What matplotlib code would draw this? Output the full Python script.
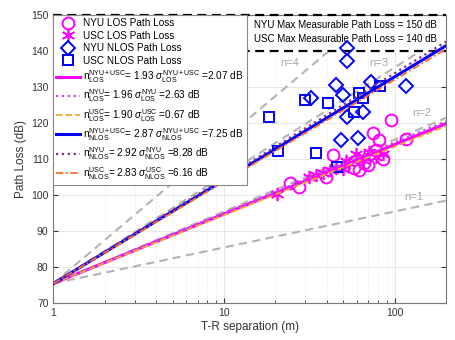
import matplotlib
matplotlib.use("Agg")
import matplotlib.pyplot as plt
import matplotlib.transforms as mtransforms
import numpy as np

plt.rcParams['font.family'] = ['Liberation Sans', 'DejaVu Sans']
plt.rcParams['mathtext.fontset'] = 'custom'
plt.rcParams['mathtext.rm'] = 'Liberation Sans'
plt.rcParams['mathtext.it'] = 'Liberation Sans:italic'

# free space path loss at 1 m, 142 GHz
FSPL_1M = 75.5

# measured points: T-R separation (m), path loss (dB)
nyu_los_d = [24.5, 27.7, 39.7, 43.5, 58.0, 61.5, 66.0, 70.0, 74.5, 78.0, 81.4, 85.0, 95.3, 116.6]
nyu_los_pl = [103.5, 102.4, 105.0, 111.2, 107.5, 107.0, 109.0, 108.5, 117.4, 112.5, 115.4, 110.0, 121.0, 115.5]

usc_los_d = [20.5, 31.7, 34.7, 38.0, 42.0, 45.4, 49.6, 52.2, 54.4, 59.3, 65.0, 66.0, 71.2, 78.1, 85.2]
usc_los_pl = [100.3, 105.2, 105.7, 106.3, 107.0, 107.5, 107.2, 109.5, 108.9, 111.5, 109.8, 110.5, 112.0, 110.7, 111.5]

nyu_nlos_d = [32.4, 45.4, 48.7, 49.6, 52.3, 52.3, 52.7, 61.3, 65.0, 72.8, 116.6]
nyu_nlos_pl = [126.9, 130.6, 115.4, 127.9, 141.0, 137.3, 121.8, 116.0, 123.2, 131.6, 130.4]

usc_nlos_d = [18.3, 20.7, 30.0, 34.7, 40.5, 46.0, 58.1, 61.6, 65.6, 82.4]
usc_nlos_pl = [121.8, 112.3, 126.5, 111.7, 125.7, 107.9, 123.2, 128.5, 126.9, 130.4]

# path loss exponents and shadow fading
ple = {'los_all': 1.93, 'los_nyu': 1.96, 'los_usc': 1.90,
       'nlos_all': 2.87, 'nlos_nyu': 2.92, 'nlos_usc': 2.83}
sigma = {'los_all': 2.07, 'los_nyu': 2.63, 'los_usc': 0.67,
         'nlos_all': 7.25, 'nlos_nyu': 8.28, 'nlos_usc': 6.16}

ref_n = [1, 2, 3, 4]
ref_label_pos = {1: (130, 99.6), 2: (145, 122.9), 3: (81, 136.8), 4: (24.2, 136.8)}

max_pl_nyu = 150
max_pl_usc = 140

d = np.logspace(0, np.log10(200), 200)

fig = plt.figure(figsize=(4.56, 3.4), dpi=100)
ax = fig.add_axes([0.117, 0.108, 0.861, 0.847])

# reference exponents
for n in ref_n:
    ax.plot(d, FSPL_1M + 10 * n * np.log10(d), color='#b3b3b3', lw=1.5,
            dashes=(4, 2.5), zorder=1.5)
    x, y = ref_label_pos[n]
    ax.text(x, y, f'n={n}', color='#a6a6a6', fontsize=8, ha='center', va='center')

# max measurable path loss box
ax.axhspan(max_pl_usc, max_pl_nyu, xmin=0.492, xmax=1, color='white', zorder=2)
ax.axhline(max_pl_nyu, color='black', lw=1.6, dashes=(4, 2.5), zorder=2.6, clip_on=False)
ax.axhline(max_pl_usc, color='black', lw=1.6, dashes=(4, 2.5), zorder=2.6)
tr = mtransforms.blended_transform_factory(ax.transAxes, ax.transData)
ax.text(0.745, 147.3, f'NYU Max Measurable Path Loss = {max_pl_nyu} dB',
        transform=tr, fontsize=7, ha='center', va='center', zorder=2.2)
ax.text(0.745, 143.4, f'USC Max Measurable Path Loss = {max_pl_usc} dB',
        transform=tr, fontsize=7, ha='center', va='center', zorder=2.2)

magenta = '#ff00ff'
blue = '#0000ff'
ax.plot(nyu_los_d, nyu_los_pl, 'o', ls='none', mfc='none', mec=magenta, ms=8.5, mew=1.4,
        label='NYU LOS Path Loss', zorder=3)
ax.plot(usc_los_d, usc_los_pl, marker=(6, 2, 0), ls='none', mec=magenta, ms=9.5, mew=1.2,
        label='USC LOS Path Loss', zorder=3)
ax.plot(nyu_nlos_d, nyu_nlos_pl, 'D', ls='none', mfc='none', mec=blue, ms=7.5, mew=1.4,
        label='NYU NLOS Path Loss', zorder=3)
ax.plot(usc_nlos_d, usc_nlos_pl, 's', ls='none', mfc='none', mec=blue, ms=7.5, mew=1.4,
        label='USC NLOS Path Loss', zorder=3)


def fit_label(key, who, cond):
    return (r'n$^{\rm %s}_{\rm %s}$= %.2f $\sigma^{\rm %s}_{\rm %s}$ =%.2f dB'
            % (who, cond, ple[key], who, cond, sigma[key]))


fits = [
    ('los_all', 'NYU+USC', 'LOS', dict(color=magenta, lw=2.2, ls='-')),
    ('los_nyu', 'NYU', 'LOS', dict(color='#b74fe6', lw=1.6, ls=':')),
    ('los_usc', 'USC', 'LOS', dict(color='#f0a830', lw=1.3, dashes=(3.5, 1.8))),
    ('nlos_all', 'NYU+USC', 'NLOS', dict(color=blue, lw=2.2, ls='-')),
    ('nlos_nyu', 'NYU', 'NLOS', dict(color='#7e2f8e', lw=1.6, ls=':')),
    ('nlos_usc', 'USC', 'NLOS', dict(color='#ff6a2a', lw=1.3, dashes=(4, 1.5, 1, 1.5))),
]
for key, who, cond, style in fits:
    ax.plot(d, FSPL_1M + 10 * ple[key] * np.log10(d), label=fit_label(key, who, cond),
            zorder=3.5, **style)

ax.set_xscale('log')
ax.set_xlim(1, 200)
ax.set_ylim(70, 150)
ax.set_yticks(np.arange(70, 151, 10))
ax.set_xticks([1, 10, 100])
ax.set_xticklabels(['1', '10', '100'])
ax.set_xlabel('T-R separation (m)', fontsize=8.5, color='#333333', labelpad=2)
ax.set_ylabel('Path Loss (dB)', fontsize=8.5, color='#333333', labelpad=3)

ax.grid(True, which='major', color='#e3e3e3', lw=0.6, zorder=0)
ax.grid(True, which='minor', axis='x', color='#e3e3e3', lw=0.6, ls=':', zorder=0)
ax.set_axisbelow(True)
ax.tick_params(which='both', direction='in', top=True, right=True,
               labelsize=7.5, colors='#333333')
ax.tick_params(which='major', length=3.5)
ax.tick_params(which='minor', length=2)
for s in ax.spines.values():
    s.set_color('#777777')
    s.set_linewidth(0.8)

leg = ax.legend(loc='upper left', bbox_to_anchor=(0, 1), borderaxespad=0,
                fontsize=7.2, frameon=True, fancybox=False, framealpha=1,
                edgecolor='#888888', handlelength=2.4, handletextpad=0.3,
                labelspacing=0.25, borderpad=0.3)
leg.get_frame().set_linewidth(0.8)
leg.set_zorder(5)

fig.savefig('out.png', dpi=100)
